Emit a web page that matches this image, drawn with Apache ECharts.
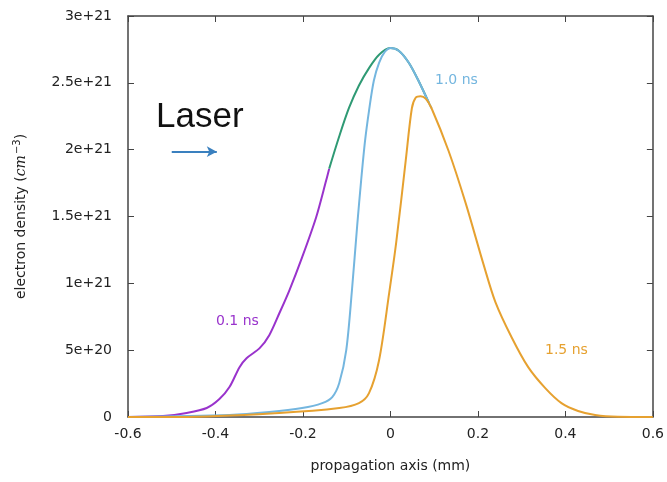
<!DOCTYPE html>
<html>
<head>
<meta charset="utf-8">
<script src="https://cdn.jsdelivr.net/npm/echarts@6/dist/echarts.min.js"></script>
<style>
  html, body { margin: 0; padding: 0; background: #fff; }
  #main { width: 667px; height: 482px; }
</style>
</head>
<body>
<div id="main"></div>
<script>
// values, x in mm, y in units of 1e21 cm^-3
var xTicks = [-0.6, -0.4, -0.2, 0, 0.2, 0.4, 0.6];
var yTicks = [0, 0.5, 1, 1.5, 2, 2.5, 3];

var purpleX = [-0.6, -0.52, -0.466, -0.42, -0.391, -0.368, -0.345, -0.329, -0.299, -0.277, -0.254, -0.231, -0.202, -0.17, -0.147, -0.14];
var purpleY = [0, 0.007, 0.03, 0.067, 0.134, 0.224, 0.373, 0.44, 0.515, 0.612, 0.776, 0.948, 1.194, 1.493, 1.769, 1.858];

var greenX = [-0.14, -0.117, -0.095, -0.072, -0.049, -0.026, -0.001, 0.019, 0.042, 0.065, 0.088];
var greenY = [1.858, 2.1, 2.31, 2.48, 2.61, 2.71, 2.76, 2.74, 2.65, 2.51, 2.35];

var blueX = [-0.6, -0.368, -0.277, -0.202, -0.156, -0.133, -0.117, -0.101, -0.088, -0.076, -0.067, -0.058, -0.049, -0.038, -0.026, -0.013, 0.001, 0.019, 0.042, 0.065, 0.088, 0.094];
var blueY = [0, 0.015, 0.037, 0.067, 0.104, 0.149, 0.254, 0.5, 0.948, 1.433, 1.769, 2.067, 2.291, 2.515, 2.649, 2.731, 2.761, 2.74, 2.65, 2.51, 2.35, 2.31];

var orangeX = [-0.6, -0.482, -0.254, -0.117, -0.072, -0.049, -0.026, -0.003, 0.013, 0.035, 0.049, 0.058, 0.069, 0.081, 0.094, 0.133, 0.172, 0.213, 0.24, 0.277, 0.315, 0.354, 0.391, 0.429, 0.468, 0.52, 0.6];
var orangeY = [0, 0, 0.03, 0.067, 0.104, 0.179, 0.425, 0.925, 1.3, 1.92, 2.31, 2.39, 2.4, 2.38, 2.31, 1.99, 1.6, 1.14, 0.86, 0.597, 0.373, 0.216, 0.104, 0.045, 0.015, 0.002, 0];

function pairs(xs, ys) {
  return xs.map(function (x, i) { return [x, ys[i] * 1e21]; });
}

function yLabel(v) {
  if (v === 0) return '0';
  var e = Math.floor(Math.log10(v) + 1e-9);
  var m = +(v / Math.pow(10, e)).toFixed(2);
  return m + 'e+' + e;
}

var font = 'DejaVu Sans';
var chart = echarts.init(document.getElementById('main'));

function line(name, data, color) {
  return {
    name: name, type: 'line', data: data, showSymbol: false, smooth: 0.3,
    lineStyle: { color: color, width: 2 }, itemStyle: { color: color }
  };
}

var series = [
  line('0.1 ns', pairs(purpleX, purpleY), '#9933cc'),
  line('0.5 ns', pairs(greenX, greenY), '#2f9a74'),
  line('1.0 ns', pairs(blueX, blueY), '#74b6df'),
  line('1.5 ns', pairs(orangeX, orangeY), '#e6a130')
];
series[0].markLine = {
  silent: true, symbol: ['none', 'arrow'], symbolSize: [8, 10],
  label: { show: false },
  lineStyle: { color: '#3a80bf', width: 2, type: 'solid' },
  data: [[{ coord: [-0.5, 1.985e21] }, { coord: [-0.397, 1.985e21] }]]
};

var axisColor = '#444';
var tick = { show: true, inside: true, length: 6, lineStyle: { color: axisColor } };

chart.setOption({
  backgroundColor: '#fff',
  animation: false,
  grid: { left: 128, right: 14, top: 16, bottom: 65 },
  xAxis: [{
    type: 'value', min: -0.6, max: 0.6, interval: 0.2,
    name: 'propagation axis (mm)', nameLocation: 'middle', nameGap: 42,
    nameTextStyle: { color: '#222', fontSize: 14, fontFamily: font },
    axisLine: { show: true, onZero: false, lineStyle: { color: axisColor, width: 1.5 } },
    axisTick: tick,
    axisLabel: { color: '#222', fontSize: 14, fontFamily: font, margin: 10,
      formatter: function (v) { return +v.toFixed(1) + ''; } },
    splitLine: { show: false }
  }, {
    type: 'value', position: 'top', min: -0.6, max: 0.6, interval: 0.2,
    axisLine: { show: true, onZero: false, lineStyle: { color: axisColor, width: 1.5 } },
    axisTick: tick, axisLabel: { show: false }, splitLine: { show: false }
  }],
  yAxis: [{
    type: 'value', min: 0, max: 3e21, interval: 5e20,
    name: '{n|electron density (}{i|cm}{s|−3}{n|)}', nameLocation: 'middle', nameGap: 98,
    nameTextStyle: {
      color: '#222', fontSize: 14, fontFamily: font,
      rich: {
        n: { fontSize: 14, fontFamily: font, color: '#222' },
        i: { fontSize: 14, fontFamily: 'DejaVu Serif', fontStyle: 'italic', color: '#222' },
        s: { fontSize: 10, fontFamily: font, color: '#222', verticalAlign: 'top', padding: [0, 0, 8, 1] }
      }
    },
    axisLine: { show: true, onZero: false, lineStyle: { color: axisColor, width: 1.5 } },
    axisTick: tick,
    axisLabel: { color: '#222', fontSize: 14, fontFamily: font, margin: 16, formatter: yLabel },
    splitLine: { show: false }
  }, {
    type: 'value', position: 'right', min: 0, max: 3e21, interval: 5e20,
    axisLine: { show: true, onZero: false, lineStyle: { color: axisColor, width: 1.5 } },
    axisTick: tick, axisLabel: { show: false }, splitLine: { show: false }
  }],
  series: series,
  graphic: [
    { type: 'text', left: 156, top: 100, style: { text: 'Laser', fontSize: 35, fontFamily: 'Liberation Sans', fill: '#111' } },
    { type: 'text', left: 216, top: 314, style: { text: '0.1 ns', fontSize: 14, fontFamily: font, fill: '#9933cc' } },
    { type: 'text', left: 435, top: 73, style: { text: '1.0 ns', fontSize: 14, fontFamily: font, fill: '#74b6df' } },
    { type: 'text', left: 545, top: 343, style: { text: '1.5 ns', fontSize: 14, fontFamily: font, fill: '#e6a130' } }
  ]
});
</script>
</body>
</html>
